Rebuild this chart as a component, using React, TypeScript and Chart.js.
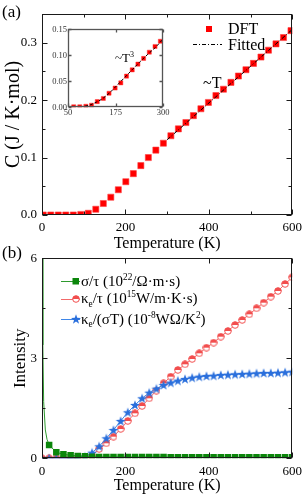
import React, { useEffect, useRef } from "react";
import { Chart, registerables } from "chart.js";
Chart.register(...registerables);

const FONT = "'Liberation Serif', 'Times New Roman', Times, serif";

// ---------------- panel (a): heat capacity ----------------
const dftTemps = [3, 21, 39, 57, 75, 93, 111, 129, 147, 165, 183, 201, 219, 237, 255, 273, 291, 309, 327, 345, 363, 381, 399, 417, 435, 453, 471, 489, 507, 525, 543, 561, 579, 597];
const dftHeat = [0.0, 0.0, 0.0, 0.0, 0.0, 0.001, 0.003, 0.01, 0.02, 0.031, 0.044, 0.058, 0.072, 0.086, 0.1, 0.113, 0.125, 0.138, 0.15, 0.161, 0.173, 0.185, 0.196, 0.208, 0.219, 0.231, 0.242, 0.253, 0.264, 0.275, 0.287, 0.298, 0.309, 0.321];
const fitTemps = [300, 600];
const fitHeat = [0.131, 0.323];

const insetTemps = [65, 81, 97, 112, 127, 143, 158, 174, 189, 204, 219, 234, 249, 264, 279, 293];
const insetHeat = [0.001, 0.001, 0.002, 0.004, 0.011, 0.017, 0.027, 0.037, 0.047, 0.06, 0.072, 0.083, 0.094, 0.106, 0.117, 0.127];
const insetFitTemps = [95, 110, 125, 140, 160, 180, 200, 220, 240, 260, 280, 300];
const insetFitHeat = [0.002, 0.005, 0.01, 0.016, 0.028, 0.043, 0.058, 0.073, 0.088, 0.102, 0.115, 0.131];

const aXTicks = [0, 200, 400, 600];
const aXMinor = [100, 300, 500];
const aYTicks = [0, 0.1, 0.2, 0.3];
const aYLabels = ["0.0", "0.1", "0.2", "0.3"];
const aYMinor = [0.05, 0.15, 0.25];
const insetXTicks = [50, 175, 300];
const insetYTicks = [0, 0.05, 0.1, 0.15];
const insetYLabels = ["0.00", "0.05", "0.10", "0.15"];

// ---------------- panel (b): transport ----------------
const bTemps = [0, 17.1, 34.3, 51.4, 68.6, 85.7, 102.9, 120, 137.1, 154.3, 171.4, 188.6, 205.7, 222.9, 240, 257.1, 274.3, 291.4, 308.6, 325.7, 342.9, 360, 377.1, 394.3, 411.4, 428.6, 445.7, 462.9, 480, 497.1, 514.3, 531.4, 548.6, 565.7, 582.9, 600];
const kappaTau = [0, 0, 0, 0, 0, 0.01, 0.02, 0.08, 0.28, 0.45, 0.65, 0.88, 1.12, 1.35, 1.57, 1.8, 2.03, 2.25, 2.45, 2.65, 2.82, 2.98, 3.15, 3.32, 3.47, 3.65, 3.82, 4.0, 4.15, 4.32, 4.5, 4.67, 4.85, 5.02, 5.23, 5.43];
const lorenz = [0, 0, 0, 0, 0, 0.01, 0.05, 0.17, 0.36, 0.6, 0.85, 1.12, 1.38, 1.6, 1.8, 1.97, 2.09, 2.2, 2.27, 2.33, 2.38, 2.42, 2.45, 2.47, 2.48, 2.5, 2.51, 2.52, 2.53, 2.54, 2.55, 2.56, 2.56, 2.57, 2.58, 2.6];
const sigmaTemps = [1, 2, 4, 8, 12, 17.1, 34.3, 51.4, 68.6, 85.7, 102.9, 120, 137.1, 154.3, 171.4, 188.6, 205.7, 222.9, 240, 257.1, 274.3, 291.4, 308.6, 325.7, 342.9, 360, 377.1, 394.3, 411.4, 428.6, 445.7, 462.9, 480, 497.1, 514.3, 531.4, 548.6, 565.7, 582.9, 600];
const sigmaTau = [7, 3.4, 1.7, 0.85, 0.57, 0.4, 0.18, 0.12, 0.09, 0.07, 0.06, 0.05, 0.04, 0.04, 0.04, 0.04, 0.04, 0.04, 0.04, 0.04, 0.04, 0.04, 0.03, 0.03, 0.03, 0.03, 0.03, 0.03, 0.03, 0.03, 0.03, 0.03, 0.03, 0.03, 0.03, 0.03, 0.03, 0.03, 0.03, 0.03];
const sigmaMarkerFrom = 15; // curve-only points below this temperature

const bXTicks = [0, 200, 400, 600];
const bYTicks = [0, 3, 6];
const bYMinor = [1.5, 4.5];

// ---------------- helpers ----------------
const xy = (xs: number[], ys: number[]) => xs.map((x, i) => ({ x, y: ys[i] }));

type Run = [string, ("sup" | "sub")?];
function drawRich(ctx: CanvasRenderingContext2D, runs: Run[], x: number, cy: number, size: number, color = "#000") {
  ctx.save();
  ctx.fillStyle = color;
  ctx.textBaseline = "alphabetic";
  ctx.textAlign = "left";
  const base = cy + size * 0.33;
  let cx = x;
  for (const [t, k] of runs) {
    const s = k ? size * 0.62 : size;
    ctx.font = `${s}px ${FONT}`;
    const dy = k === "sup" ? -size * 0.4 : k === "sub" ? size * 0.22 : 0;
    ctx.fillText(t, cx, base + dy);
    cx += ctx.measureText(t).width;
  }
  ctx.restore();
}

function halfCircleImg(color: string) {
  const c = document.createElement("canvas");
  c.width = 8; c.height = 8;
  const g = c.getContext("2d")!;
  g.beginPath(); g.arc(4, 4, 3.3, 0, 2 * Math.PI); g.fillStyle = "#fff"; g.fill();
  g.beginPath(); g.arc(4, 4, 3.3, Math.PI, 2 * Math.PI); g.closePath(); g.fillStyle = color; g.fill();
  g.beginPath(); g.arc(4, 4, 3.3, 0, 2 * Math.PI); g.strokeStyle = color; g.lineWidth = 1; g.stroke();
  return c;
}

function starImg(color: string) {
  const c = document.createElement("canvas");
  c.width = 12; c.height = 12;
  const g = c.getContext("2d")!;
  g.translate(6, 6.5);
  g.beginPath();
  for (let i = 0; i < 10; i++) {
    const r = i % 2 ? 2.1 : 5.2;
    const a = -Math.PI / 2 + (i * Math.PI) / 5;
    g.lineTo(r * Math.cos(a), r * Math.sin(a));
  }
  g.closePath();
  g.fillStyle = color;
  g.fill();
  return c;
}

type TickSpec = { xMajor: number[]; xMinor: number[]; yMajor: number[]; yMinor: number[]; major: number; minor: number; color: string; width: number };
function frameTicks(spec: TickSpec, extra?: (chart: any) => void) {
  return {
    id: "frameTicks",
    afterDatasetsDraw(chart: any) {
      const { ctx, chartArea: a, scales } = chart;
      const xs = scales.x, ys = scales.y;
      const L = Math.round(a.left) + 0.5, R = Math.round(a.right) - 0.5;
      const T = Math.round(a.top) + 0.5, B = Math.round(a.bottom) - 0.5;
      ctx.save();
      ctx.strokeStyle = spec.color;
      ctx.lineWidth = spec.width;
      ctx.beginPath();
      const seg = (x1: number, y1: number, x2: number, y2: number) => { ctx.moveTo(x1, y1); ctx.lineTo(x2, y2); };
      const xl: [number[], number][] = [[spec.xMajor, spec.major], [spec.xMinor, spec.minor]];
      for (const [arr, len] of xl) for (const v of arr) {
        const p = Math.round(xs.getPixelForValue(v)) + 0.5;
        seg(p, B, p, B - len); seg(p, T, p, T + len);
      }
      const yl: [number[], number][] = [[spec.yMajor, spec.major], [spec.yMinor, spec.minor]];
      for (const [arr, len] of yl) for (const v of arr) {
        const p = Math.round(ys.getPixelForValue(v)) + 0.5;
        seg(L, p, L + len, p); seg(R, p, R - len, p);
      }
      ctx.stroke();
      ctx.strokeRect(L, T, R - L, B - T);
      ctx.restore();
      if (extra) extra(chart);
    },
  };
}

const tickFont = (size: number) => ({ family: FONT, size, lineHeight: 1.2 });

function makeA(canvas: HTMLCanvasElement) {
  return new Chart(canvas, {
    type: "line",
    data: {
      datasets: [
        { label: "Fitted", data: xy(fitTemps, fitHeat), borderColor: "#000", borderWidth: 1, borderDash: [4, 2, 1, 2], pointRadius: 0, order: 0 },
        { label: "DFT", data: xy(dftTemps, dftHeat), showLine: false, pointStyle: "rect", pointRadius: 4.3, backgroundColor: "#ff0000", pointBorderColor: "#ff4040", pointBorderWidth: 0.6, order: 1 },
      ],
    } as any,
    options: {
      animation: false,
      responsive: false,
      devicePixelRatio: 1,
      layout: { padding: { left: 0, top: 14, right: 14, bottom: 0 } },
      plugins: { legend: { display: false }, tooltip: { enabled: false } },
      scales: {
        x: {
          type: "linear", min: 0, max: 600,
          afterFit: (s: any) => { s.height = 37; },
          afterBuildTicks: (s: any) => { s.ticks = aXTicks.map((v) => ({ value: v })); },
          grid: { display: false, drawTicks: false },
          border: { display: false },
          ticks: { padding: 5, font: tickFont(13), color: "#000", maxRotation: 0, autoSkip: false, callback: (v: any) => String(v) },
          title: { display: true, text: "Temperature (K)", font: { family: FONT, size: 16, lineHeight: 1 }, color: "#000", padding: { top: 0, bottom: 0 } },
        },
        y: {
          type: "linear", min: 0, max: 0.35,
          afterFit: (s: any) => { s.width = 42; },
          afterBuildTicks: (s: any) => { s.ticks = aYTicks.map((v) => ({ value: v })); },
          grid: { display: false, drawTicks: false },
          border: { display: false },
          ticks: { padding: 5, font: tickFont(13), color: "#000", autoSkip: false, callback: (v: any) => aYLabels[aYTicks.indexOf(v)] ?? "" },
          title: { display: true, text: "C (J / K·mol)", font: { family: FONT, size: 20, lineHeight: 1 }, color: "#000", padding: { top: 4, bottom: 0 } },
        },
      },
    } as any,
    plugins: [
      frameTicks({ xMajor: aXTicks, xMinor: aXMinor, yMajor: aYTicks, yMinor: aYMinor, major: 5, minor: 3, color: "#1a1a1a", width: 1 }, (chart) => {
        const ctx = chart.ctx as CanvasRenderingContext2D;
        drawRich(ctx, [["(a)"]], 2, 11.5, 17);
        // legend
        ctx.save();
        ctx.fillStyle = "#ff0000";
        ctx.fillRect(206, 26, 6, 6);
        ctx.strokeStyle = "#000";
        ctx.lineWidth = 1;
        ctx.setLineDash([4, 2, 1, 2]);
        ctx.beginPath(); ctx.moveTo(193, 44.5); ctx.lineTo(222, 44.5); ctx.stroke();
        ctx.restore();
        drawRich(ctx, [["DFT"]], 228, 29, 16);
        drawRich(ctx, [["Fitted"]], 228, 44.5, 16);
        drawRich(ctx, [["~T"]], 203, 83, 16);
      }),
    ],
  });
}

function makeInset(canvas: HTMLCanvasElement) {
  return new Chart(canvas, {
    type: "line",
    data: {
      datasets: [
        { label: "Fitted", data: xy(insetFitTemps, insetFitHeat), borderColor: "#000", borderWidth: 1, borderDash: [3, 2], pointRadius: 0, order: 0 },
        { label: "DFT", data: xy(insetTemps, insetHeat), showLine: false, pointStyle: "rect", pointRadius: 2.9, backgroundColor: "#ff0000", pointBorderColor: "#ff4040", pointBorderWidth: 0.5, order: 1 },
      ],
    } as any,
    options: {
      animation: false,
      responsive: false,
      devicePixelRatio: 1,
      layout: { padding: { left: 0, top: 9.3, right: 9, bottom: 0 } },
      plugins: { legend: { display: false }, tooltip: { enabled: false } },
      scales: {
        x: {
          type: "linear", min: 50, max: 300,
          afterFit: (s: any) => { s.height = 12.7; },
          afterBuildTicks: (s: any) => { s.ticks = insetXTicks.map((v) => ({ value: v })); },
          grid: { display: false, drawTicks: false },
          border: { display: false },
          ticks: { padding: 0, font: tickFont(8.5), color: "#333", maxRotation: 0, autoSkip: false, callback: (v: any) => String(v) },
        },
        y: {
          type: "linear", min: 0, max: 0.15,
          afterFit: (s: any) => { s.width = 28; },
          afterBuildTicks: (s: any) => { s.ticks = insetYTicks.map((v) => ({ value: v })); },
          grid: { display: false, drawTicks: false },
          border: { display: false },
          ticks: { padding: 1, font: tickFont(8.5), color: "#333", autoSkip: false, callback: (v: any) => insetYLabels[insetYTicks.indexOf(v)] ?? "" },
        },
      },
    } as any,
    plugins: [
      frameTicks({ xMajor: insetXTicks, xMinor: [], yMajor: insetYTicks, yMinor: [], major: 3, minor: 2, color: "#555", width: 1.3 }, (chart) => {
        drawRich(chart.ctx, [["~T"], ["3", "sup"]], 75, 38, 13);
      }),
    ],
  });
}

function makeB(canvas: HTMLCanvasElement) {
  const redImg = halfCircleImg("#f24e4e");
  const blueImg = starImg("#2a6fdc");
  const OFF = 244;
  return new Chart(canvas, {
    type: "line",
    data: {
      datasets: [
        {
          label: "sigma", data: xy(sigmaTemps, sigmaTau), borderColor: "#2e9a2e", borderWidth: 1,
          pointStyle: "rect", pointRadius: (c: any) => (sigmaTemps[c.dataIndex] < sigmaMarkerFrom ? 0 : 4.6),
          backgroundColor: "#0b860b", pointBorderColor: "#0b860b", pointBorderWidth: 0, order: 0,
        },
        { label: "lorenz", data: xy(bTemps, lorenz), borderColor: "#3f86e8", borderWidth: 1, pointStyle: blueImg, pointRadius: 5, order: 1 },
        { label: "kappa", data: xy(bTemps, kappaTau), borderColor: "#f26a6a", borderWidth: 1, pointStyle: redImg, pointRadius: 4, order: 2 },
      ],
    } as any,
    options: {
      animation: false,
      responsive: false,
      devicePixelRatio: 1,
      layout: { padding: { left: 0, top: 14.3, right: 14, bottom: 0 } },
      plugins: { legend: { display: false }, tooltip: { enabled: false } },
      scales: {
        x: {
          type: "linear", min: 0, max: 600,
          afterFit: (s: any) => { s.height = 35.7; },
          afterBuildTicks: (s: any) => { s.ticks = bXTicks.map((v) => ({ value: v })); },
          grid: { display: false, drawTicks: false },
          border: { display: false },
          ticks: { padding: 5, font: tickFont(13), color: "#000", maxRotation: 0, autoSkip: false, callback: (v: any) => String(v) },
          title: { display: true, text: "Temperature (K)", font: { family: FONT, size: 16, lineHeight: 1 }, color: "#000", padding: { top: 0, bottom: 0 } },
        },
        y: {
          type: "linear", min: 0, max: 6,
          afterFit: (s: any) => { s.width = 42; },
          afterBuildTicks: (s: any) => { s.ticks = bYTicks.map((v) => ({ value: v })); },
          grid: { display: false, drawTicks: false },
          border: { display: false },
          ticks: { padding: 5, font: tickFont(13), color: "#000", autoSkip: false, callback: (v: any) => String(v) },
          title: { display: true, text: "Intensity", font: { family: FONT, size: 17, lineHeight: 1 }, color: "#000", padding: { top: 12.5, bottom: 0 } },
        },
      },
    } as any,
    plugins: [
      frameTicks({ xMajor: bXTicks, xMinor: [], yMajor: bYTicks, yMinor: bYMinor, major: 5, minor: 3, color: "#1a1a1a", width: 1 }, (chart) => {
        const ctx = chart.ctx as CanvasRenderingContext2D;
        drawRich(ctx, [["(b)"]], 2, 252.5 - OFF, 17);
        const rows = [280.7 - OFF, 298.5 - OFF, 319 - OFF];
        const colors = ["#2e9a2e", "#f26a6a", "#3f86e8"];
        ctx.save();
        ctx.lineWidth = 1;
        rows.forEach((y, i) => {
          ctx.strokeStyle = colors[i];
          ctx.beginPath(); ctx.moveTo(61, Math.round(y) + 0.5); ctx.lineTo(80, Math.round(y) + 0.5); ctx.stroke();
        });
        ctx.fillStyle = "#0b860b";
        ctx.fillRect(72.5, Math.round(rows[0]) - 3, 6.5, 6.5);
        ctx.drawImage(redImg, 72, Math.round(rows[1]) - 4);
        ctx.drawImage(blueImg, 70, Math.round(rows[2]) - 6);
        ctx.restore();
        drawRich(ctx, [["σ/τ (10"], ["22", "sup"], ["/Ω·m·s)"]], 81, rows[0], 15);
        drawRich(ctx, [["κ"], ["e", "sub"], ["/τ (10"], ["15", "sup"], ["W/m·K·s)"]], 81, rows[1], 15);
        drawRich(ctx, [["κ"], ["e", "sub"], ["/(σT) (10"], ["-8", "sup"], ["WΩ/K"], ["2", "sup"], [")"]], 81, rows[2], 15);
      }),
    ],
  });
}

export default function App() {
  const refA = useRef<HTMLCanvasElement>(null);
  const refI = useRef<HTMLCanvasElement>(null);
  const refB = useRef<HTMLCanvasElement>(null);
  useEffect(() => {
    const charts = [makeA(refA.current!), makeB(refB.current!), makeInset(refI.current!)];
    return () => charts.forEach((c) => c.destroy());
  }, []);
  return (
    <div style={{ position: "absolute", left: 0, top: 0, width: 307, height: 494, background: "#fff", overflow: "hidden" }}>
      <canvas ref={refA} width={307} height={252} style={{ position: "absolute", left: 0, top: 0, width: 307, height: 252 }} />
      <canvas ref={refB} width={307} height={250} style={{ position: "absolute", left: 0, top: 244, width: 307, height: 250 }} />
      <canvas ref={refI} width={132} height={100} style={{ position: "absolute", left: 40, top: 20, width: 132, height: 100 }} />
    </div>
  );
}
